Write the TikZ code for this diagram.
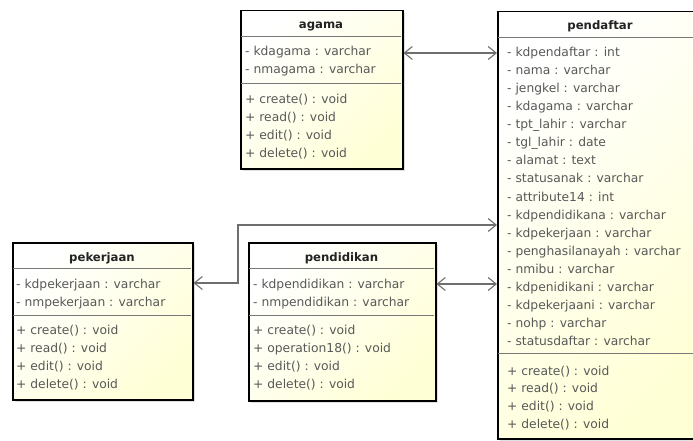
\documentclass[tikz,border=0pt]{standalone}
\usepackage{fontspec}
\setmainfont{DejaVu Sans}
\usetikzlibrary{arrows.meta,shadows}

\definecolor{classfill}{RGB}{255,255,214}
\definecolor{membertext}{RGB}{88,88,88}
\definecolor{titletext}{RGB}{35,35,35}
\definecolor{divider}{RGB}{120,120,120}
\definecolor{wire}{RGB}{110,110,110}

\tikzset{
  classbox/.style={draw=black, line width=1.5pt, top color=white, bottom color=classfill,
    shading angle=45, inner sep=0pt, anchor=north west,
    drop shadow={shadow xshift=2pt, shadow yshift=-2pt, opacity=0.2, fill=black!60}},
  classtitle/.style={inner sep=0pt, text height=8.5pt, text depth=2.5pt,
    font=\bfseries\fontsize{11.7}{14}\selectfont, text=titletext},
  member/.style={anchor=west, inner sep=0pt, text height=9pt, text depth=2.5pt,
    font=\fontsize{12.3}{14}\selectfont, text=membertext},
  divider/.style={draw=divider, line width=0.9pt},
  assoc/.style={draw=wire, line width=1.1pt,
    {Straight Barb[length=8pt,width=13pt,line width=1.1pt]}-{Straight Barb[length=8pt,width=13pt,line width=1.1pt]}},
}

% class frame: name, left, right, top, header rule, member rule, bottom, title
\newcommand{\classframe}[8]{%
  \node[classbox, minimum width={(#3-#2)*1pt}, minimum height={(#7-#4)*1pt}] (#1) at (#2,#4) {};
  \draw[divider] (#2+1,#5) -- (#3-1,#5);
  \draw[divider] (#2+1,#6) -- (#3-1,#6);
  \node[classtitle] (#1-title) at ({(#2+#3)/2},#4+16) {#8};
}
% member rows: prefix, x, first y, step, list
\newcommand{\memberrows}[5]{%
  \foreach \m [count=\k from 0] in {#5} {
    \node[member] (#1-\k) at (#2,#3+\k*#4) {\m};
  }
}

\begin{document}
\begin{tikzpicture}[x=1pt,y=-1pt]
  \fill[white] (0,0) rectangle (693,441);
  \useasboundingbox (0,0) rectangle (693,441);

  % agama
  \classframe{agama}{240}{402}{10}{36}{83}{168}{agama}
  \memberrows{agama-attr}{245}{52}{18}{- kdagama : varchar, - nmagama : varchar}
  \memberrows{agama-op}{245}{100}{18}{+ create() : void, + read() : void, + edit() : void, + delete() : void}

  % pendaftar
  \classframe{pendaftar}{497}{703}{11}{37}{353}{438}{pendaftar}
  \memberrows{pendaftar-attr}{507}{53}{18.1}{- kdpendaftar : int, - nama : varchar, - jengkel : varchar,
    - kdagama : varchar, - tpt\_lahir : varchar, - tgl\_lahir : date, - alamat : text,
    - statusanak : varchar, - attribute14 : int, - kdpendidikana : varchar,
    - kdpekerjaan : varchar, - penghasilanayah : varchar, - nmibu : varchar,
    - kdpenidikani : varchar, - kdpekerjaani : varchar, - nohp : varchar, - statusdaftar : varchar}
  \memberrows{pendaftar-op}{507}{372}{17.7}{+ create() : void, + read() : void, + edit() : void, + delete() : void}

  % pekerjaan
  \classframe{pekerjaan}{12}{192}{242}{268}{315}{399}{pekerjaan}
  \memberrows{pekerjaan-attr}{16}{285}{18}{- kdpekerjaan : varchar, - nmpekerjaan : varchar}
  \memberrows{pekerjaan-op}{16}{331}{18}{+ create() : void, + read() : void, + edit() : void, + delete() : void}

  % pendidikan
  \classframe{pendidikan}{248}{435}{242}{268}{315}{400}{pendidikan}
  \memberrows{pendidikan-attr}{253}{285}{18}{- kdpendidikan : varchar, - nmpendidikan : varchar}
  \memberrows{pendidikan-op}{253}{331}{18}{+ create() : void, + operation18() : void, + edit() : void, + delete() : void}

  % associations
  \coordinate (agamaLink) at (0,53);
  \draw[assoc] (agama.east |- agamaLink) -- (pendaftar.west |- agamaLink);

  \coordinate (jobLink) at (0,283);
  \coordinate (jobBend) at (238,225);
  \draw[assoc] (pekerjaan.east |- jobLink) -| (jobBend) -- (pendaftar.west |- jobBend);

  \coordinate (eduLink) at (0,284);
  \draw[assoc] (pendidikan.east |- eduLink) -- (pendaftar.west |- eduLink);
\end{tikzpicture}
\end{document}
